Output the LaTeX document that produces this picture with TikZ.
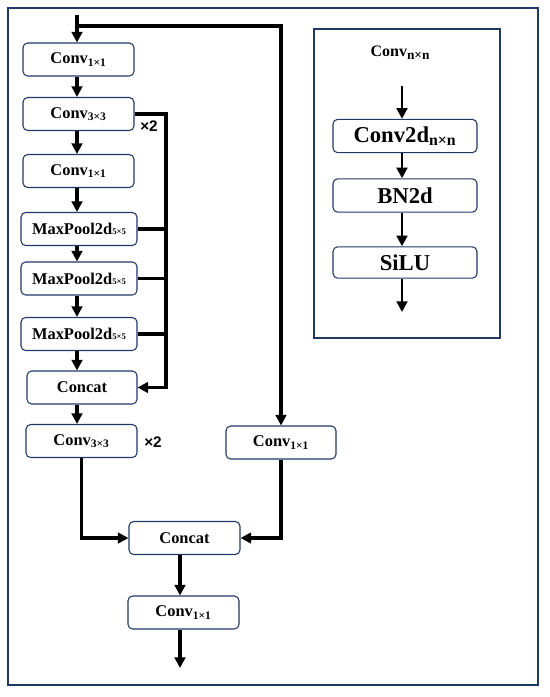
\documentclass[tikz,border=0pt]{standalone}
\usepackage{fontspec}
\setmainfont{Liberation Serif}
\newfontfamily\lsans{Liberation Sans}
\usetikzlibrary{arrows.meta}
\definecolor{navy}{HTML}{1F3864}
\newcommand\mysub[1]{\textsubscript{#1}}
\newcommand\mpsub[1]{{\fontsize{6.5}{7}\selectfont #1}}
\begin{document}
\begin{tikzpicture}[x=0.75pt,y=-0.75pt,
  box/.style={draw=navy, line width=0.8pt, rounded corners=3.5pt, fill=white,
    font=\bfseries\fontsize{12.3}{14}\selectfont, inner sep=0pt, align=center,
    minimum width=83.25pt, minimum height=24.75pt},
  bigbox/.style={box, font=\bfseries\fontsize{17}{20}\selectfont, minimum width=108pt, minimum height=25pt},
  ln/.style={line width=2.4pt},
  arr/.style={line width=2.4pt, -{Triangle[length=8pt,width=8pt]}},
  frame/.style={draw=navy, line width=1.8pt},
  lab/.style={font=\lsans\bfseries\fontsize{11.5}{13}\selectfont, inner sep=0pt}
]
\useasboundingbox (0,0) rectangle (550,697);
% frames
\draw[frame] (8,8) rectangle (538,685);
\draw[frame] (314,29) rectangle (500,338);

% left column
\node[box] (c1)  at (78.5,59.5) {Conv\mysub{1×1}};
\node[box] (c3)  at (78.5,114)  {Conv\mysub{3×3}};
\node[box] (c1b) at (78.5,171)  {Conv\mysub{1×1}};
\node[box, minimum width=87pt] (mp1) at (79,229)   {MaxPool2d\mpsub{5×5}};
\node[box, minimum width=87pt] (mp2) at (79,278.5) {MaxPool2d\mpsub{5×5}};
\node[box, minimum width=87pt] (mp3) at (79,334)   {MaxPool2d\mpsub{5×5}};
\node[box, minimum width=82.5pt] (cat1) at (82,387.5) {Concat};
\node[box] (c3b) at (81.5,441) {Conv\mysub{3×3}};
\node[box, minimum width=82.5pt] (c1r) at (281,442.5) {Conv\mysub{1×1}};
\node[box] (cat2) at (184.5,538) {Concat};
\node[box] (c1f)  at (183.5,612.5) {Conv\mysub{1×1}};

\node[lab] (x2a) at (149,126) {×2};
\node[lab] (x2b) at (153,442) {×2};

% input and skip
\coordinate (in) at (77,15);
\coordinate (jn) at (77,26);
\coordinate (bus) at (166,0);
\coordinate (out) at (180,668);
\draw[arr] (in) -- (in |- c1.north);
\draw[arr] (jn) -| (c1r.north);
\draw[arr] (in |- c1.south) -- (in |- c3.north);
\draw[arr] (in |- c3.south) -- (in |- c1b.north);
\draw[arr] (in |- c1b.south) -- (in |- mp1.north);
\draw[arr] (in |- mp1.south) -- (in |- mp2.north);
\draw[arr] (in |- mp2.south) -- (in |- mp3.north);
\draw[arr] (in |- mp3.south) -- (in |- cat1.north);
\draw[arr] (in |- cat1.south) -- (in |- c3b.north);
% bracket
\draw[arr] (c3.east) -| (bus |- cat1.east) -- (cat1.east);
\draw[ln] (mp1.east) -- (mp1.east -| bus);
\draw[ln] (mp2.east) -- (mp2.east -| bus);
\draw[ln] (mp3.east) -- (mp3.east -| bus);
% merge
\draw[arr] (c3b.south) |- (cat2.west);
\draw[arr] (c1r.south) |- (cat2.east);
\draw[arr] (out |- cat2.south) -- (out |- c1f.north);
\draw[arr] (out |- c1f.south) -- (out);

% inset
\node[font=\bfseries\fontsize{12}{14}\selectfont, inner sep=0pt] (title) at (400,53) {Conv{\fontsize{10}{12}\selectfont\raisebox{-2.5pt}{n×n}}};
\node[bigbox] (cv) at (405,136) {Conv2d\mysub{n×n}};
\node[bigbox] (bn) at (405,195.5) {BN2d};
\node[bigbox, minimum height=23.5pt] (si) at (405,262.5) {SiLU};
\coordinate (iin) at (402,86);
\coordinate (iout) at (402,312);
\draw[arr, line width=2pt] (iin) -- (iin |- cv.north);
\draw[arr, line width=2pt] (iin |- cv.south) -- (iin |- bn.north);
\draw[arr, line width=2pt] (iin |- bn.south) -- (iin |- si.north);
\draw[arr, line width=2pt] (iin |- si.south) -- (iout);
\end{tikzpicture}
\end{document}
